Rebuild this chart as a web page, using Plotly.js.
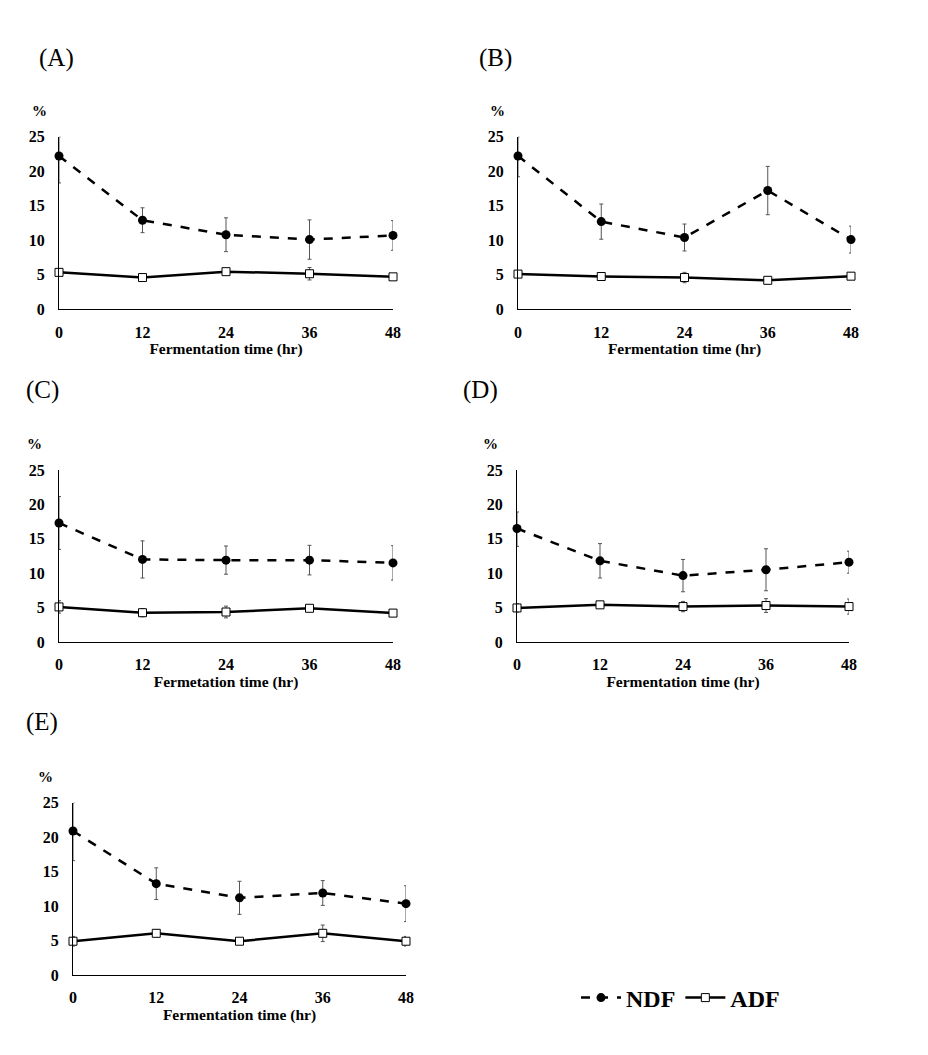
<!DOCTYPE html>
<html>
<head>
<meta charset="utf-8">
<script src="https://cdn.plot.ly/plotly-3.0.1.min.js"></script>
<style>html,body{margin:0;padding:0;background:#fff;}#chart{width:928px;height:1055px;}</style>
</head>
<body>
<div id="chart"></div>
<script>
// ---- data ----
const hours = [0, 12, 24, 36, 48];
const tickLabels = ["0", "12", "24", "36", "48"];
const panelNames = ["(A)", "(B)", "(C)", "(D)", "(E)"];
const xTitles = ["Fermentation time (hr)", "Fermentation time (hr)", "Fermetation time (hr)", "Fermentation time (hr)", "Fermentation time (hr)"];

const ndfA = [22.2, 12.9, 10.8, 10.1, 10.7];
const ndfA_up = [2.8, 1.8, 2.45, 2.85, 2.15];
const ndfA_dn = [3.9, 1.8, 2.45, 2.85, 2.15];
const adfA = [5.35, 4.6, 5.45, 5.15, 4.7];
const adfA_err = [0.3, 0.2, 0.2, 0.9, 0.4];

const ndfB = [22.2, 12.7, 10.4, 17.2, 10.1];
const ndfB_up = [2.8, 2.55, 1.95, 3.5, 1.95];
const ndfB_dn = [3.0, 2.55, 1.95, 3.5, 1.95];
const adfB = [5.1, 4.75, 4.6, 4.2, 4.8];
const adfB_err = [0.3, 0.4, 0.75, 0.5, 0.5];

const ndfC = [17.3, 12.0, 11.9, 11.9, 11.5];
const ndfC_up = [3.85, 2.7, 2.05, 2.15, 2.5];
const ndfC_dn = [3.85, 2.7, 2.05, 2.15, 2.5];
const adfC = [5.1, 4.26, 4.36, 4.9, 4.2];
const adfC_err = [0.9, 0.6, 0.85, 0.3, 0.5];

const ndfD = [16.5, 11.8, 9.65, 10.5, 11.6];
const ndfD_up = [2.4, 2.5, 2.35, 3.05, 1.6];
const ndfD_dn = [2.6, 2.5, 2.35, 3.05, 1.6];
const adfD = [4.95, 5.4, 5.15, 5.3, 5.15];
const adfD_err = [0.6, 0.5, 0.75, 1.0, 1.1];

const ndfE = [20.9, 13.25, 11.2, 11.9, 10.35];
const ndfE_up = [4.1, 2.3, 2.4, 1.8, 2.6];
const ndfE_dn = [4.3, 2.3, 2.4, 1.8, 2.6];
const adfE = [4.9, 6.05, 4.9, 6.05, 4.9];
const adfE_err = [0.7, 0.5, 0.3, 1.2, 0.7];

const ndfSets = [[ndfA, ndfA_up, ndfA_dn], [ndfB, ndfB_up, ndfB_dn], [ndfC, ndfC_up, ndfC_dn], [ndfD, ndfD_up, ndfD_dn], [ndfE, ndfE_up, ndfE_dn]];
const adfSets = [[adfA, adfA_err], [adfB, adfB_err], [adfC, adfC_err], [adfD, adfD_err], [adfE, adfE_err]];

// ---- layout geometry (pixels) ----
const W = 928, H = 1055;
const boxes = [
  {x0: 59, x1: 393, y0: 136.7, y1: 309.3, lx: 56, ly: 58, px: 39, py: 111},
  {x0: 518, x1: 851, y0: 136.7, y1: 309.3, lx: 495, ly: 58, px: 497, py: 111},
  {x0: 59, x1: 393, y0: 470, y1: 642, lx: 42, ly: 390, px: 34, py: 444},
  {x0: 517, x1: 849, y0: 470, y1: 642, lx: 481, ly: 390, px: 491, py: 444},
  {x0: 73, x1: 406, y0: 802.7, y1: 975, lx: 42, ly: 722, px: 45, py: 777}
];

const serif = "'Liberation Serif', 'Times New Roman', serif";
const traces = [];
const layout = {
  width: W, height: H,
  margin: {l: 0, r: 0, t: 0, b: 0},
  paper_bgcolor: "#fff", plot_bgcolor: "#fff",
  showlegend: true,
  legend: {
    orientation: "h", x: 576 / W, y: 1 - 998 / H, xanchor: "left", yanchor: "middle",
    font: {family: serif, size: 24, color: "#000", weight: "bold"},
    itemwidth: 40, tracegroupgap: 0, bgcolor: "rgba(0,0,0,0)"
  },
  annotations: []
};

boxes.forEach((b, i) => {
  const n = i + 1;
  const xa = "x" + (n === 1 ? "" : n), ya = "y" + (n === 1 ? "" : n);
  const xk = "xaxis" + (n === 1 ? "" : n), yk = "yaxis" + (n === 1 ? "" : n);
  const tickFont = {family: serif, size: 16, color: "#000", weight: "bold"};
  layout[xk] = {
    domain: [b.x0 / W, b.x1 / W], anchor: ya, range: [0, 48],
    tickvals: hours, ticktext: tickLabels, showgrid: false, zeroline: false,
    showline: true, linecolor: "#000", linewidth: 1,
    ticks: "outside", ticklen: 8, tickcolor: "rgba(0,0,0,0)",
    tickfont: tickFont, fixedrange: true,
    title: {text: xTitles[i], font: {family: serif, size: 15.5, color: "#000", weight: "bold"}, standoff: 0}
  };
  layout[yk] = {
    domain: [1 - b.y1 / H, 1 - b.y0 / H], anchor: xa, range: [0, 25], dtick: 5,
    showgrid: false, zeroline: false, showline: true, linecolor: "#000", linewidth: 1,
    ticks: "outside", ticklen: 10, tickcolor: "rgba(0,0,0,0)",
    tickfont: tickFont, fixedrange: true
  };
  const nd = ndfSets[i], ad = adfSets[i];
  traces.push({
    type: "scatter", mode: "lines+markers", name: "NDF", x: hours, y: nd[0],
    xaxis: xa, yaxis: ya, showlegend: i === 0, cliponaxis: false,
    line: {color: "#000", width: 2.5, dash: "dash"},
    marker: {symbol: "circle", size: 9, color: "#000"},
    error_y: {type: "data", symmetric: false, array: nd[1], arrayminus: nd[2], color: "#555", thickness: 1, width: 2}
  });
  traces.push({
    type: "scatter", mode: "lines+markers", name: "ADF", x: hours, y: ad[0],
    xaxis: xa, yaxis: ya, showlegend: i === 0, cliponaxis: false,
    line: {color: "#000", width: 2.5},
    marker: {symbol: "square", size: 8, color: "#fff", line: {color: "#000", width: 1}},
    error_y: {type: "data", array: ad[1], color: "#555", thickness: 1, width: 2}
  });
  layout.annotations.push({
    text: panelNames[i], xref: "paper", yref: "paper", x: b.lx / W, y: 1 - b.ly / H,
    xanchor: "center", yanchor: "middle", showarrow: false,
    font: {family: serif, size: 25, color: "#000"}
  });
  layout.annotations.push({
    text: "%", xref: "paper", yref: "paper", x: b.px / W, y: 1 - b.py / H,
    xanchor: "center", yanchor: "middle", showarrow: false,
    font: {family: serif, size: 15, color: "#000", weight: "bold"}
  });
});

Plotly.newPlot("chart", traces, layout, {displayModeBar: false, staticPlot: true});
</script>
</body>
</html>
